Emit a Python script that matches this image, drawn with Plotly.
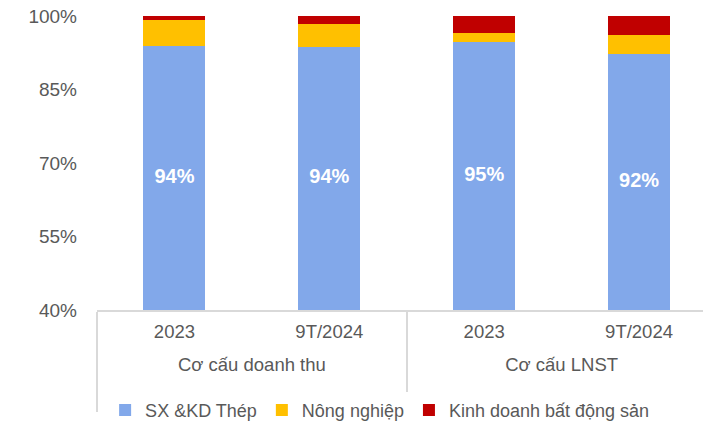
import plotly.graph_objects as go

# Category labels (two levels)
groups = ["Cơ cấu doanh thu", "Cơ cấu doanh thu", "Cơ cấu LNST", "Cơ cấu LNST"]
periods = ["2023", "9T/2024", "2023", "9T/2024"]

# Share of each segment (fraction of total)
thep = [0.939, 0.937, 0.946, 0.922]
nong_nghiep = [0.052, 0.047, 0.019, 0.040]
bat_dong_san = [0.009, 0.016, 0.035, 0.038]

series = [
    ("SX &KD Thép", thep, "#82A8EA"),
    ("Nông nghiệp", nong_nghiep, "#FFC000"),
    ("Kinh doanh bất động sản", bat_dong_san, "#C00000"),
]

y_min, y_max = 0.4, 1.0
font_family = "Liberation Sans, Arial, sans-serif"


def big(s):
    return f"<span style='font-size:18.5px'>{s}</span>"


# Tick text is set larger than the axis font so that the extra line
# breaks (sized by the axis font) add only a modest gap between rows.
period_labels = [big(p) for p in periods]
group_labels = [f"<br>{big(g)}<br> <br> " for g in groups]

fig = go.Figure()
for name, vals, color in series:
    fig.add_trace(go.Bar(
        x=[group_labels, period_labels], y=vals, name=name,
        marker=dict(color=color, line=dict(width=0)),
        width=0.4, hoverinfo="skip",
    ))

# Value labels centred in the visible part of the steel segment
fig.add_trace(go.Scatter(
    x=[group_labels, period_labels],
    y=[(y_min + v) / 2 for v in thep],
    text=[f"{v:.0%}" for v in thep],
    mode="text", showlegend=False, hoverinfo="skip",
    textfont=dict(family=font_family, size=20, color="white", weight="bold"),
))

fig.update_layout(
    barmode="stack",
    width=703, height=423,
    margin=dict(l=97, r=0, t=16, b=113),
    paper_bgcolor="white", plot_bgcolor="white",
    font=dict(family=font_family, color="#595959"),
    showlegend=True,
    legend=dict(
        orientation="h", xref="container", yref="container",
        x=0.54, xanchor="center", y=0.03, yanchor="middle",
        font=dict(size=18, color="#595959"), itemwidth=30,
        traceorder="normal",
    ),
)
fig.update_xaxes(
    type="multicategory",
    range=[-0.5, 3.413],
    automargin=False,
    showline=True, linecolor="#D9D9D9", linewidth=1.5,
    dividercolor="#D9D9D9", dividerwidth=1.5,
    showgrid=False, ticks="",
    ticklabelstandoff=9,
    tickfont=dict(size=14.5, color="#595959"),
)
fig.update_yaxes(
    range=[y_min, y_max],
    automargin=False,
    tickvals=[0.4, 0.55, 0.7, 0.85, 1.0],
    tickformat=".0%",
    showgrid=False, zeroline=False, showline=False,
    ticklabelstandoff=19,
    tickfont=dict(size=19, color="#595959"),
)

fig.write_html("out.html")
